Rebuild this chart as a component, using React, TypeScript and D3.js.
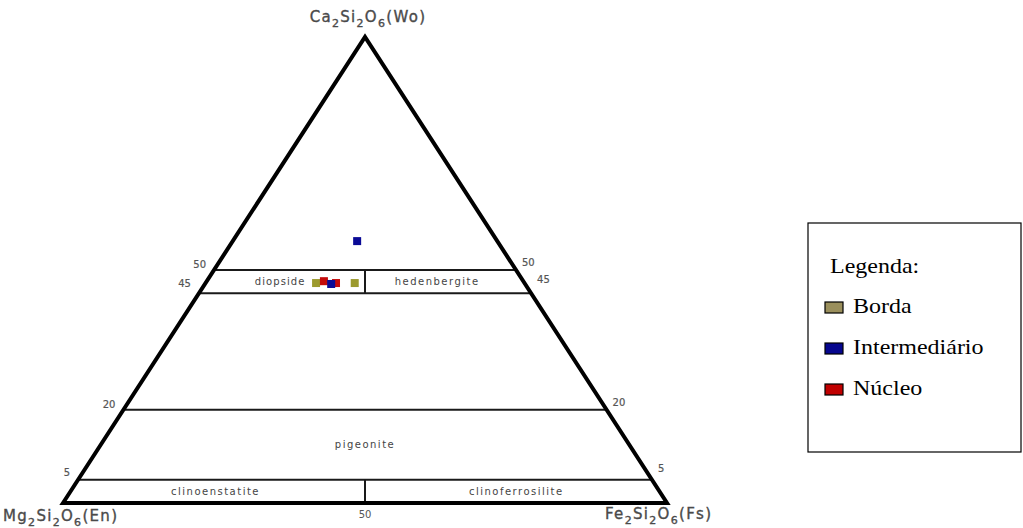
import React from "react";
import * as d3 from "d3";

const W = 1023;
const H = 528;

// Vertex end-members
const vertexNames = ["Ca2Si2O6(Wo)", "Mg2Si2O6(En)", "Fe2Si2O6(Fs)"];

// Wo levels of the classification boundaries (mol %)
const woLevels = [50, 45, 20, 5];

// Compositions (Wo, Fs in mol %, En = remainder)
const bordaWo = [47.2, 47.2];
const bordaFs = [18.3, 24.7];
const nucleoWo = [47.6, 47.2];
const nucleoFs = [19.4, 21.6];
const intermWo = [56.2, 47.0];
const intermFs = [20.6, 20.9];

const seriesNames = ["Borda", "Intermediário", "Núcleo"];
const seriesColors = ["#9c9a2e", "#0a0a96", "#c40a0a"];
const legendColors = ["#9a8f5c", "#06068e", "#c00000"];

// Field names with their label anchors in (Wo, Fs)
const fieldNames = ["diopside", "hedenbergite", "pigeonite", "clinoenstatite", "clinoferrosilite"];
const fieldWo = [47.5, 47.5, 12.6, 2.5, 2.5];
const fieldFs = [12.2, 38.2, 43.7, 24.0, 73.8];

const FONT = "'DejaVu Sans', sans-serif";

const xs = d3.scaleLinear().domain([0, 100]).range([63, 667]);
const ys = d3.scaleLinear().domain([0, 100]).range([503, 37]);
const px = (wo: number, fs: number) => xs(fs + wo / 2);
const py = (wo: number) => ys(wo);

function Formula({ text, x, y, anchor }: { text: string; x: number; y: number; anchor: string }) {
  const parts = text.match(/\d+|[^\d]+/g) || [];
  const out: React.ReactNode[] = [];
  let sub = false;
  parts.forEach((p, i) => {
    const isNum = /^\d+$/.test(p);
    const dy = isNum && !sub ? 5 : !isNum && sub ? -5 : 0;
    sub = isNum;
    out.push(
      <tspan key={i} dy={dy} fontSize={isNum ? 11 : 15}>
        {p}
      </tspan>
    );
  });
  return (
    <text
      x={x}
      y={y}
      textAnchor={anchor}
      fontFamily={FONT}
      fill="#4a4a4a"
      stroke="#4a4a4a"
      strokeWidth={0.35}
      letterSpacing={1.3}
    >
      {out}
    </text>
  );
}

export default function App() {
  const line = d3.line<[number, number]>();
  const tri: [number, number][] = [
    [px(0, 0), py(0)],
    [px(100, 0), py(100)],
    [px(0, 100), py(0)],
  ];

  const series = [
    { wo: bordaWo, fs: bordaFs, c: seriesColors[0] },
    { wo: nucleoWo, fs: nucleoFs, c: seriesColors[2] },
    { wo: intermWo, fs: intermFs, c: seriesColors[1] },
  ];
  const S = 8;

  return (
    <svg width={W} height={H} style={{ position: "absolute", left: 0, top: 0, background: "#fff" }}>
      <rect width={W} height={H} fill="#fff" />

      {/* boundary lines at constant Wo */}
      {woLevels.map((t) => (
        <line
          key={t}
          x1={px(t, 0)}
          x2={px(t, 100 - t)}
          y1={py(t)}
          y2={py(t)}
          stroke="#1a1a1a"
          strokeWidth={2}
        />
      ))}
      {/* En = Fs dividers */}
      <line x1={px(45, 27.5)} x2={px(50, 25)} y1={py(45)} y2={py(50)} stroke="#1a1a1a" strokeWidth={2} />
      <line x1={px(0, 50)} x2={px(5, 47.5)} y1={py(0)} y2={py(5)} stroke="#1a1a1a" strokeWidth={2} />

      {/* outline */}
      <path d={line(tri)! + "Z"} fill="none" stroke="#000" strokeWidth={4} strokeLinejoin="miter" />

      {/* tick labels */}
      {woLevels.map((t) => (
        <g key={"t" + t} fontFamily={FONT} fontSize={10} fill="#555" stroke="#555" strokeWidth={0.2}>
          <text x={px(t, 0) - 8} y={py(t) - 2 - (t === 45 ? 4 : 0) - (t === 5 ? 2 : 0)} textAnchor="end">
            {t}
          </text>
          <text x={px(t, 100 - t) + 6} y={py(t) - 4 - (t === 45 ? 6 : 0) - (t === 5 ? 4 : 0)} textAnchor="start">
            {t}
          </text>
        </g>
      ))}
      <text x={px(0, 50)} y={py(0) + 15} textAnchor="middle" fontFamily={FONT} fontSize={10} fill="#555">
        50
      </text>

      {/* field names */}
      {fieldNames.map((n, i) => (
        <text
          key={n}
          x={px(fieldWo[i], fieldFs[i])}
          y={py(fieldWo[i]) + 3.5}
          textAnchor="middle"
          fontFamily={FONT}
          fontSize={10}
          letterSpacing={i === 0 ? 1.1 : 1.5}
          fill="#444"
        >
          {n}
        </text>
      ))}

      {/* data points */}
      {series.map((s, si) =>
        s.wo.map((wo, i) => (
          <rect
            key={si + "-" + i}
            x={px(wo, s.fs[i]) - S / 2}
            y={py(wo) - S / 2}
            width={S}
            height={S}
            fill={s.c}
          />
        ))
      )}

      {/* vertex labels */}
      <Formula text={vertexNames[0]} x={px(100, 0) + 3} y={22} anchor="middle" />
      <Formula text={vertexNames[1]} x={3} y={521} anchor="start" />
      <Formula text={vertexNames[2]} x={605} y={519} anchor="start" />

      {/* legend */}
      <rect x={808} y={223} width={213} height={229} fill="#fff" stroke="#000" strokeWidth={1.2} />
      <text
        transform="translate(830,273) scale(1.2,1)"
        fontFamily="'Liberation Serif', 'Times New Roman', serif"
        fontSize={20}
        fill="#000"
      >
        Legenda:
      </text>
      {seriesNames.map((n, i) => (
        <g key={n}>
          <rect x={825} y={302 + i * 41} width={18} height={11} fill={legendColors[i]} stroke="#000" strokeWidth={1.2} />
          <text
            transform={`translate(853,${313 + i * 41}) scale(1.2,1)`}
            fontFamily="'Liberation Serif', 'Times New Roman', serif"
            fontSize={20}
            fill="#000"
          >
            {n}
          </text>
        </g>
      ))}
    </svg>
  );
}
